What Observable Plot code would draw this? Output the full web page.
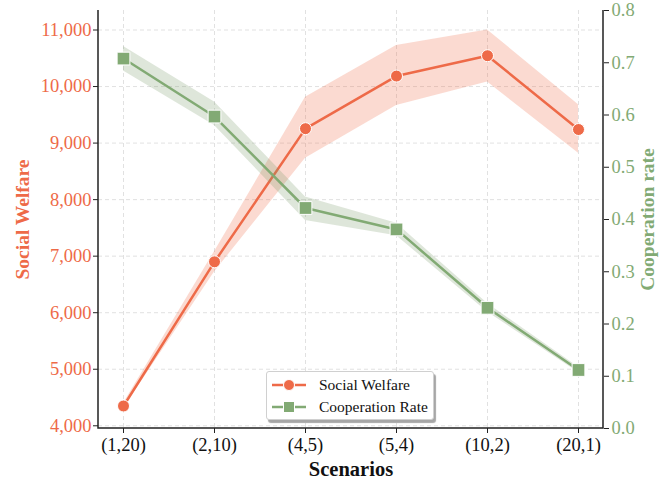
<!DOCTYPE html>
<html><head><meta charset="utf-8">
<script src="https://cdn.jsdelivr.net/npm/d3@7"></script>
<script src="https://cdn.jsdelivr.net/npm/@observablehq/plot@0.6"></script>
<style>
body{margin:0;background:#fff;}
#wrap{position:relative;width:665px;height:481px;font-family:"Liberation Serif",serif;}
#legend{position:absolute;left:266px;top:371px;width:168px;height:49px;background:#fff;border:1px solid #d0d0d0;border-radius:3px;box-shadow:2px 3px 1px rgba(0,0,0,0.35);box-sizing:border-box;}
.row{position:absolute;left:4px;height:20px;display:flex;align-items:center;font-size:15.5px;color:#111;}
.row svg{margin-right:12px;}
</style>
</head><body>
<div id="wrap"></div>
<script>
const cats = ["(1,20)","(2,10)","(4,5)","(5,4)","(10,2)","(20,1)"];
const welfare   = [4350, 6900, 9255, 10185, 10545, 9240];
const welfareLo = [4305, 6720, 8730, 9665, 10080, 8820];
const welfareHi = [4395, 7080, 9810, 10725, 11000, 9680];
const coop   = [0.708, 0.597, 0.422, 0.381, 0.231, 0.112];
const coopLo = [0.684, 0.580, 0.398, 0.369, 0.223, 0.107];
const coopHi = [0.731, 0.625, 0.443, 0.393, 0.239, 0.117];
const welfareTicks = [4000, 5000, 6000, 7000, 8000, 9000, 10000, 11000];
const coopTicks = [0, 0.1, 0.2, 0.3, 0.4, 0.5, 0.6, 0.7, 0.8];

const RED = "#ee6a48", GREEN = "#82aa74";
const Y0 = 3952, Y1 = 11345, C1 = 0.8;
const f = v => Y0 + v / C1 * (Y1 - Y0);
const inv = y => (y - Y0) / (Y1 - Y0) * C1;

const rows = cats.map((cat, i) => ({cat, w: welfare[i], wLo: welfareLo[i], wHi: welfareHi[i],
  c: f(coop[i]), cLo: f(coopLo[i]), cHi: f(coopHi[i])}));

const spines = (index, scales, values, dims) => {
  const {marginLeft: l, marginTop: t, width: w, height: h, marginRight: r, marginBottom: b} = dims;
  const g = d3.create("svg:g").attr("stroke", "#222").attr("stroke-width", 1.5).attr("fill", "none");
  g.append("path").attr("d", `M${l},${t}V${h - b}H${w - r}V${t}`);
  return g.node();
};

const grid = {stroke: "#bbb", strokeOpacity: 0.55, strokeDasharray: "4,3", strokeWidth: 0.8};
const FS = 18.5;

const chart = Plot.plot({
  width: 665, height: 481,
  marginTop: 10, marginBottom: 53, marginLeft: 98, marginRight: 62,
  style: {fontFamily: "Liberation Serif, serif", fontSize: FS + "px", background: "white", color: "#111"},
  x: {type: "point", domain: cats, padding: 0.245, label: null},
  y: {domain: [Y0, Y1], label: null},
  marks: [
    Plot.gridY(welfareTicks, grid),
    Plot.gridX(cats, grid),
    Plot.areaY(rows, {x: "cat", y1: "wLo", y2: "wHi", fill: RED, fillOpacity: 0.25}),
    Plot.lineY(rows, {x: "cat", y: "w", stroke: RED, strokeWidth: 2.5}),
    Plot.dot(rows, {x: "cat", y: "w", r: 6, fill: RED, stroke: "white", strokeWidth: 1}),
    Plot.areaY(rows, {x: "cat", y1: "cLo", y2: "cHi", fill: "#7d9a6c", fillOpacity: 0.25}),
    Plot.lineY(rows, {x: "cat", y: "c", stroke: GREEN, strokeWidth: 2.5}),
    Plot.dot(rows, {x: "cat", y: "c", symbol: "square", r: 7.2, fill: GREEN, stroke: "white", strokeWidth: 1}),
    Plot.axisY(welfareTicks, {anchor: "left", tickFormat: d3.format(","), fill: RED, stroke: "#222", tickSize: 5, tickPadding: 2, label: null, fontSize: FS}),
    Plot.axisY(coopTicks.map(f), {anchor: "right", tickFormat: d => inv(d).toFixed(1), fill: GREEN, stroke: "#222", tickSize: 5, tickPadding: 3, label: null, fontSize: FS}),
    Plot.axisX(cats, {anchor: "bottom", tickSize: 5, tickPadding: 4, label: null, fill: "#111", stroke: "#222", fontSize: FS}),
    spines,
    Plot.text(["Social Welfare"], {frameAnchor: "left", dx: -76, rotate: -90, fill: RED, fontSize: 19.5, fontWeight: "bold", textAnchor: "middle"}),
    Plot.text(["Cooperation rate"], {frameAnchor: "right", dx: 44, rotate: -90, fill: GREEN, fontSize: 19.5, fontWeight: "bold", textAnchor: "middle"}),
    Plot.text(["Scenarios"], {frameAnchor: "bottom", dy: 47, fill: "#111", fontSize: 20.5, fontWeight: "bold", textAnchor: "middle"})
  ]
});

const wrap = document.getElementById("wrap");
wrap.appendChild(chart);

const legendItems = [
  {label: "Social Welfare", color: RED, shape: "circle"},
  {label: "Cooperation Rate", color: GREEN, shape: "square"}
];
const legend = document.createElement("div");
legend.id = "legend";
legendItems.forEach((it, i) => {
  const row = document.createElement("div");
  row.className = "row";
  row.style.top = (3 + i * 22) + "px";
  const marker = it.shape === "circle"
    ? `<circle cx="18" cy="10" r="5.5" fill="${it.color}" stroke="white" stroke-width="1"/>`
    : `<rect x="12.5" y="4.5" width="11" height="11" fill="${it.color}" stroke="white" stroke-width="1"/>`;
  row.innerHTML = `<svg width="36" height="20"><line x1="1" x2="35" y1="10" y2="10" stroke="${it.color}" stroke-width="2.5"/>${marker}</svg><span>${it.label}</span>`;
  legend.appendChild(row);
});
wrap.appendChild(legend);
</script>
</body></html>
